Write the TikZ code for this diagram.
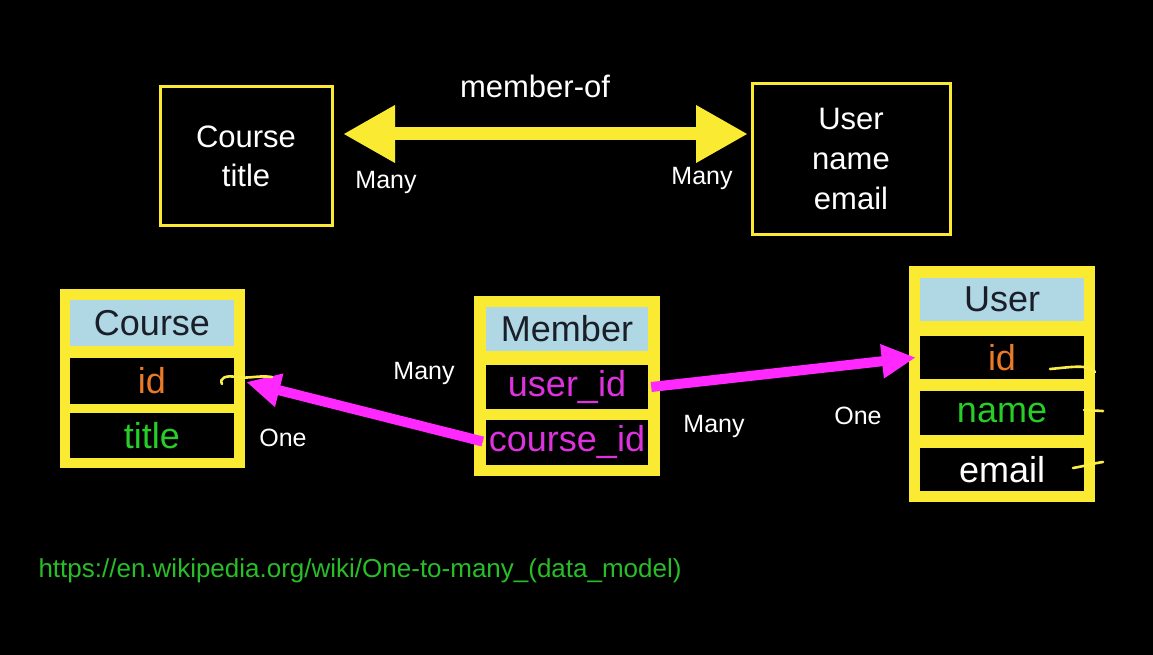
\documentclass[tikz,border=0pt]{standalone}
\usepackage{fontspec}
\setmainfont{Liberation Sans}
\usetikzlibrary{arrows.meta}
\definecolor{ylw}{RGB}{250,235,50}
\definecolor{lblue}{RGB}{176,216,228}
\definecolor{mag}{RGB}{255,40,255}
\definecolor{magtxt}{RGB}{222,50,222}
\definecolor{org}{RGB}{232,122,40}
\definecolor{grn}{RGB}{40,205,40}
\definecolor{urlgrn}{RGB}{40,190,40}
\definecolor{hdr}{RGB}{25,30,40}
\tikzset{
  big/.style={font=\fontsize{31}{36}\selectfont},
  lbl/.style={text=white,font=\fontsize{25}{30}\selectfont},
  tbl/.style={font=\fontsize{36}{42}\selectfont},
  topbox/.style={draw=ylw,line width=3pt,fill=black,text=white,big,align=center,inner sep=0pt},
  outer/.style={draw=none,fill=ylw,inner sep=0pt},
  head/.style={fill=lblue,text=hdr,tbl,inner sep=0pt,minimum width=164pt},
  row/.style={fill=black,tbl,inner sep=0pt,minimum width=164pt},
  fk/.style={draw=mag,line width=10pt,-{Triangle[length=34pt,width=32pt]}},
  mm/.style={draw=ylw,line width=13pt,{Triangle[length=52pt,width=54pt]}-{Triangle[length=52pt,width=54pt]}},
  squig/.style={draw=ylw!90!white,line width=2.6pt,line cap=round}
}
\begin{document}
\begin{tikzpicture}[x=1pt,y=-1pt]
\useasboundingbox (0,0) rectangle (1153,655);
\fill[black] (0,0) rectangle (1153,655);

% top conceptual model
\node[topbox,minimum width=172pt,minimum height=139pt] (cb) at (246,156) {Course\\[3pt]title};
\node[topbox,minimum width=198pt,minimum height=150pt] (ub) at (851,159) {User\\[4pt]name\\[4pt]email};
\coordinate (al) at (343,134);
\coordinate (ar) at (748,134);
\draw[mm] (al) -- (ar);
\node[text=white,big] (mo) at (535,86) {member-of};
\node[lbl] (m1) at (386,182) {Many};
\node[lbl] (m2) at (702,178) {Many};

% Course table
\node[outer,minimum width=185pt,minimum height=179pt] (ct) at (152.5,378.5) {};
\node[head,minimum height=46pt] (ch) at (152,323) {Course};
\node[row,text=org,minimum height=46pt] (cid) at (152,381) {id};
\node[row,text=grn,minimum height=45pt] (ctitle) at (152,435.5) {title};

% Member table
\node[outer,minimum width=186pt,minimum height=180pt] (mt) at (567,386) {};
\node[head,minimum width=162pt,minimum height=44pt] (mh) at (567,329) {Member};
\node[row,minimum width=162pt,text=magtxt,minimum height=44pt] (muid) at (567,387) {user\_id};
\node[row,minimum width=162pt,text=magtxt,minimum height=45pt] (mcid) at (567,442.5) {course\_id};

% User table
\node[outer,minimum width=186pt,minimum height=236pt] (ut) at (1002,384) {};
\node[head,minimum height=43pt] (uh) at (1002,299) {User};
\node[row,text=org,minimum height=43pt] (uid) at (1002,357.5) {id};
\node[row,text=grn,minimum height=44pt] (uname) at (1002,413) {name};
\node[row,text=white,minimum height=43pt] (uemail) at (1002,469.5) {email};

% foreign key arrows
\draw[fk] ([xshift=-3pt,yshift=1pt]mcid.west) -- ([xshift=12pt,yshift=-1pt]cid.east);
\draw[fk] ([xshift=3pt]muid.east) -- ([xshift=-4pt]uid.west);

% cardinality labels
\node[lbl] (l1) at (424,373) {Many};
\node[lbl] (l2) at (283,438) {One};
\node[lbl] (l3) at (714,426) {Many};
\node[lbl] (l4) at (858,416) {One};

% hand-drawn squiggles
\draw[squig] (222,384) .. controls (219,378) and (226,375) .. (236,377) .. controls (250,379) and (258,375) .. (272,377);
\draw[squig] (1050,369) .. controls (1062,368) and (1075,366) .. (1084,367) .. controls (1090,368) and (1093,370) .. (1095,372);
\draw[squig] (1084,410) -- (1103,411);
\draw[squig] (1073,468) .. controls (1085,466) and (1095,463) .. (1103,462);

% reference link
\node[text=urlgrn,font=\fontsize{26}{30}\selectfont,anchor=west] (url) at (35,571) {https://en.wikipedia.org/wiki/One-to-many\_(data\_model)};
\end{tikzpicture}
\end{document}
